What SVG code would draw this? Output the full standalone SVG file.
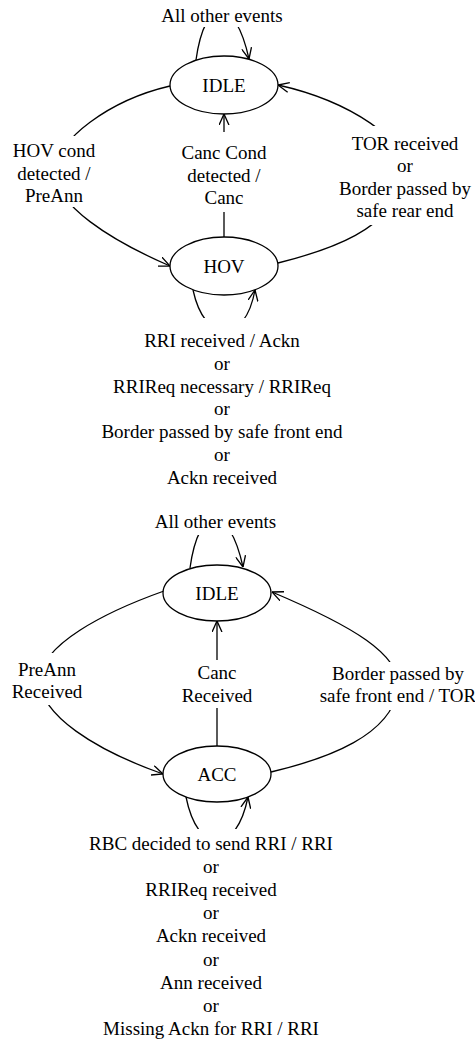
<svg xmlns="http://www.w3.org/2000/svg" width="475" height="1044" viewBox="0 0 475 1044">
<style>
.n{fill:#fff;stroke:#000;stroke-width:1.3}
.c{fill:none;stroke:#000;stroke-width:1.3}
.a{marker-end:url(#arr)}
.t{font-family:'Liberation Serif','Times New Roman',Times,'DejaVu Serif',serif;font-size:19px;text-anchor:middle;fill:#000}
.bg{fill:#fff}
</style>
<defs>
<marker id="arr" viewBox="0 0 10 10" refX="10" refY="5" markerWidth="11" markerHeight="11" markerUnits="userSpaceOnUse" orient="auto">
<path d="M0,0.5 L10,5 L0,9.5" fill="none" stroke="#000" stroke-width="1.2"/>
</marker>
</defs>
<rect width="475" height="1044" fill="#fff"/>
<g id="connectors">
<path class="c a" d="M196,60 C205,-5 235,-5 249,59"/>
<path class="c a" d="M170,86 C110,100 55,140 55,172 C55,205 110,240 170,266"/>
<path class="c a" d="M224,237 L224,114"/>
<path class="c a" d="M278,263 C330,250 390,230 405,180 C415,140 345,100 278,85"/>
<path class="c a" d="M193,290 C205,345 245,345 255,290"/>
<path class="c a" d="M190,568 C199,503 229,503 243,567"/>
<path class="c a" d="M164,591 C105,612 40,645 40,680 C40,715 95,750 163,774"/>
<path class="c a" d="M217,746 L217,621"/>
<path class="c a" d="M271,772 C330,758 390,735 398,690 C404,655 350,625 272,592"/>
<path class="c a" d="M186,797 C198,856 236,856 248,797"/>
</g>
<g id="labels" font-family="Liberation Serif, serif">
<rect class="bg" x="158" y="4" width="128" height="23"/>
<text class="t" x="222" y="22">All other events</text>
<rect class="bg" x="6" y="136" width="96" height="71"/>
<text class="t" x="54" y="157">HOV cond</text>
<text class="t" x="54" y="179.5">detected /</text>
<text class="t" x="54" y="202">PreAnn</text>
<rect class="bg" x="178" y="132" width="92" height="80"/>
<text class="t" x="224" y="159">Canc Cond</text>
<text class="t" x="224" y="181.5">detected /</text>
<text class="t" x="224" y="204">Canc</text>
<rect class="bg" x="334" y="126" width="141" height="99"/>
<text class="t" x="405" y="150">TOR received</text>
<text class="t" x="405" y="172">or</text>
<text class="t" x="405" y="194.5">Border passed by</text>
<text class="t" x="405" y="217">safe rear end</text>
<rect class="bg" x="120" y="318" width="210" height="172"/>
<text class="t" x="222" y="347">RRI received / Ackn</text>
<text class="t" x="222" y="369.8">or</text>
<text class="t" x="222" y="392.6">RRIReq necessary / RRIReq</text>
<text class="t" x="222" y="415.4">or</text>
<text class="t" x="222" y="438.2">Border passed by safe front end</text>
<text class="t" x="222" y="461">or</text>
<text class="t" x="222" y="483.8">Ackn received</text>
<rect class="bg" x="150" y="508" width="130" height="27"/>
<text class="t" x="215.5" y="528">All other events</text>
<rect class="bg" x="5" y="653" width="88" height="52"/>
<text class="t" x="47" y="676">PreAnn</text>
<text class="t" x="47" y="698">Received</text>
<rect class="bg" x="178" y="660" width="80" height="48"/>
<text class="t" x="217" y="679">Canc</text>
<text class="t" x="217" y="702">Received</text>
<rect class="bg" x="312" y="662" width="163" height="48"/>
<text class="t" x="398" y="680">Border passed by</text>
<text class="t" x="398" y="702">safe front end / TOR</text>
<rect class="bg" x="80" y="829" width="260" height="212"/>
<text class="t" x="211" y="850">RBC decided to send RRI / RRI</text>
<text class="t" x="211" y="873.1">or</text>
<text class="t" x="211" y="896.2">RRIReq received</text>
<text class="t" x="211" y="919.3">or</text>
<text class="t" x="211" y="942.4">Ackn received</text>
<text class="t" x="211" y="965.5">or</text>
<text class="t" x="211" y="988.6">Ann received</text>
<text class="t" x="211" y="1011.7">or</text>
<text class="t" x="211" y="1034.8">Missing Ackn for RRI / RRI</text>
</g>
<g id="idle1"><ellipse class="n" cx="224" cy="85" rx="54" ry="29"/><text class="t" x="224" y="92">IDLE</text></g>
<g id="hov"><ellipse class="n" cx="224" cy="266" rx="54" ry="29"/><text class="t" x="224" y="273">HOV</text></g>
<g id="idle2"><ellipse class="n" cx="217" cy="593" rx="54" ry="28"/><text class="t" x="217" y="600">IDLE</text></g>
<g id="acc"><ellipse class="n" cx="217" cy="774" rx="54" ry="28"/><text class="t" x="217" y="781">ACC</text></g>
</svg>
